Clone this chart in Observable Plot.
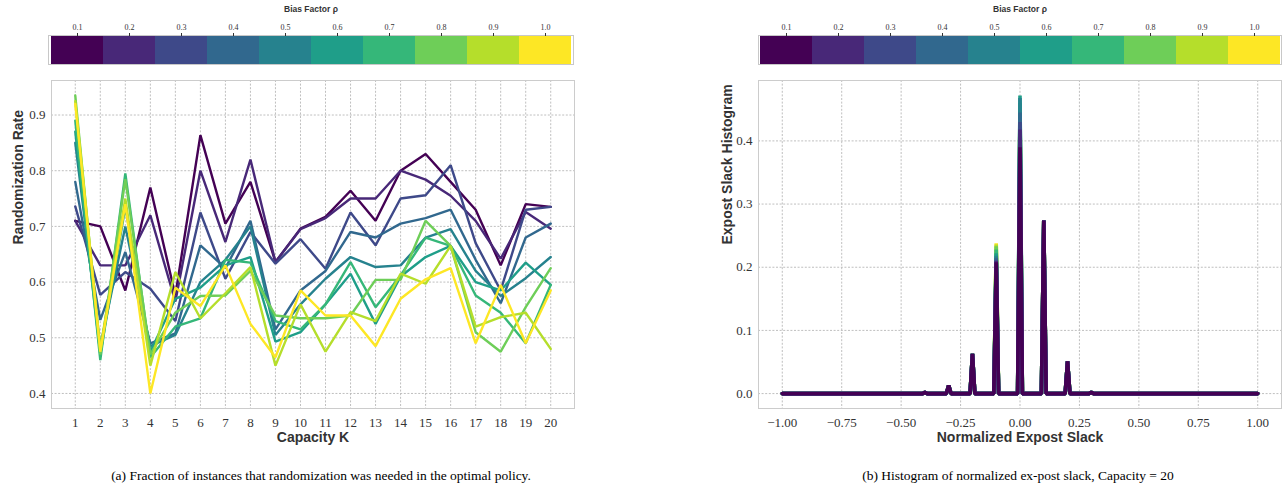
<!DOCTYPE html>
<html><head><meta charset="utf-8">
<script src="https://cdn.jsdelivr.net/npm/d3@7"></script>
<script src="https://cdn.jsdelivr.net/npm/@observablehq/plot@0.6"></script>
<style>
body{margin:0;background:#fff;}
#root{position:relative;width:1283px;height:487px;overflow:hidden;background:#fff;}
.panel{position:absolute;}
.caption{position:absolute;font-family:"Liberation Serif",serif;font-size:13.5px;color:#000;white-space:nowrap;transform:translate(-50%,-50%);}
</style></head><body><div id="root"></div>
<script>
// ---------- data ----------
const rhoValues = [0.1, 0.2, 0.3, 0.4, 0.5, 0.6, 0.7, 0.8, 0.9, 1.0];
const capacityK = [1,2,3,4,5,6,7,8,9,10,11,12,13,14,15,16,17,18,19,20];

const rate_rho01 = [0.71,0.70,0.585,0.77,0.576,0.864,0.705,0.78,0.636,0.696,0.717,0.764,0.71,0.80,0.83,0.78,0.73,0.63,0.74,0.735];
const rate_rho02 = [0.71,0.63,0.63,0.72,0.565,0.80,0.672,0.82,0.636,0.695,0.715,0.75,0.75,0.80,0.784,0.755,0.71,0.642,0.726,0.696];
const rate_rho03 = [0.736,0.577,0.618,0.588,0.53,0.725,0.606,0.69,0.633,0.677,0.624,0.725,0.666,0.75,0.756,0.81,0.67,0.585,0.73,0.735];
const rate_rho04 = [0.78,0.532,0.654,0.49,0.508,0.666,0.625,0.71,0.515,0.585,0.62,0.69,0.68,0.705,0.715,0.73,0.64,0.562,0.68,0.705];
const rate_rho05 = [0.85,0.485,0.70,0.485,0.505,0.60,0.64,0.70,0.505,0.56,0.606,0.645,0.627,0.63,0.68,0.695,0.62,0.575,0.607,0.645];
const rate_rho06 = [0.87,0.47,0.735,0.475,0.57,0.59,0.63,0.645,0.493,0.51,0.56,0.615,0.525,0.61,0.645,0.665,0.60,0.585,0.635,0.595];
const rate_rho07 = [0.89,0.46,0.795,0.465,0.52,0.535,0.64,0.635,0.53,0.515,0.56,0.636,0.555,0.612,0.68,0.665,0.576,0.545,0.49,0.595];
const rate_rho08 = [0.935,0.47,0.785,0.47,0.545,0.575,0.576,0.62,0.54,0.535,0.535,0.54,0.604,0.604,0.71,0.665,0.51,0.475,0.555,0.625];
const rate_rho09 = [0.925,0.48,0.75,0.45,0.618,0.535,0.58,0.627,0.45,0.56,0.475,0.546,0.53,0.615,0.597,0.665,0.52,0.537,0.545,0.48];
const rate_rho10 = [0.92,0.475,0.74,0.40,0.59,0.557,0.63,0.525,0.465,0.585,0.54,0.54,0.485,0.57,0.605,0.625,0.49,0.595,0.49,0.585];

// histogram: non-zero bins of normalized ex-post slack (all other bins from -1 to 1, step 0.01, are 0)
const slackBins = [-0.4,-0.3,-0.2,-0.1,0.0,0.1,0.2,0.3];
const hist_rho01 = [0.002,0.013,0.063,0.208,0.390,0.274,0.051,0.002];
const hist_rho02 = [0.002,0.013,0.063,0.210,0.418,0.274,0.051,0.002];
const hist_rho03 = [0.002,0.013,0.063,0.212,0.430,0.274,0.051,0.002];
const hist_rho04 = [0.002,0.013,0.063,0.215,0.445,0.274,0.051,0.002];
const hist_rho05 = [0.002,0.013,0.063,0.218,0.468,0.274,0.051,0.002];
const hist_rho06 = [0.002,0.013,0.063,0.222,0.472,0.274,0.051,0.002];
const hist_rho07 = [0.002,0.013,0.063,0.228,0.460,0.274,0.051,0.002];
const hist_rho08 = [0.002,0.013,0.063,0.233,0.455,0.274,0.051,0.002];
const hist_rho09 = [0.002,0.013,0.063,0.236,0.450,0.274,0.051,0.002];
const hist_rho10 = [0.002,0.013,0.063,0.238,0.445,0.274,0.051,0.002];
const slackStep = 0.01;

const leftTicksY = [0.4,0.5,0.6,0.7,0.8,0.9];
const rightTicksX = [-1.0,-0.75,-0.5,-0.25,0.0,0.25,0.5,0.75,1.0];
const rightTicksY = [0.0,0.1,0.2,0.3,0.4];

// ---------- tables ----------
const rateSeries = [rate_rho01,rate_rho02,rate_rho03,rate_rho04,rate_rho05,rate_rho06,rate_rho07,rate_rho08,rate_rho09,rate_rho10];
const rateTable = rhoValues.flatMap((rho,i)=>capacityK.map((k,j)=>({rho,k,rate:rateSeries[i][j]})));

const histSeries = [hist_rho01,hist_rho02,hist_rho03,hist_rho04,hist_rho05,hist_rho06,hist_rho07,hist_rho08,hist_rho09,hist_rho10];
const nSteps = Math.round(2/slackStep);
const histTable = [];
// draw darkest last (on top)
for (let i = rhoValues.length-1; i >= 0; i--) {
  for (let s = 0; s <= nSteps; s++) {
    const x = Math.round((-1 + s*slackStep)*100)/100;
    const bi = slackBins.findIndex(b => Math.abs(b - x) < 1e-9);
    histTable.push({rho: rhoValues[i], x, h: bi >= 0 ? histSeries[i][bi] : 0});
  }
}

// ---------- styles ----------
const serif = "'Liberation Serif', 'DejaVu Serif', serif";
const sans = "'Liberation Sans', 'DejaVu Sans', sans-serif";
const gridStyle = {stroke:"#b8b8b8", strokeOpacity:1, strokeWidth:0.9, strokeDasharray:"2,1.6"};
const colorScale = {type:"ordinal", scheme:"viridis", domain: rhoValues};

const root = document.getElementById("root");
function place(node, left, top) {
  const d = document.createElement("div");
  d.className = "panel"; d.style.left = left+"px"; d.style.top = top+"px";
  d.appendChild(node); root.appendChild(d);
}
function caption(text, cx, cy) {
  const d = document.createElement("div");
  d.className = "caption"; d.style.left = cx+"px"; d.style.top = cy+"px";
  d.textContent = text; root.appendChild(d);
}

function colorbar(width, left, right) {
  return Plot.plot({
    width, height: 66, marginLeft: left, marginRight: right, marginTop: 35, marginBottom: 2,
    style: {background:"transparent", overflow:"visible"},
    x: {type:"band", domain: rhoValues, padding: 0},
    color: colorScale,
    marks: [
      Plot.cell(rhoValues, {x: d=>d, fill: d=>d}),
      Plot.frame({stroke:"#c8c8c8", strokeWidth:1}),
      Plot.axisX({anchor:"top", tickSize:3, tickPadding:3, tickFormat:d3.format(".1f"), fontSize:8, fontFamily:serif, label:null, stroke:"#333", color:"#333"}),
      Plot.text(["Bias Factor ρ"], {frameAnchor:"top", lineAnchor:"middle", dy:-26, fontFamily:sans, fontWeight:"bold", fontSize:8.5, fill:"#333"})
    ]
  });
}

// ---------- left panel ----------
place(colorbar(600, 48, 27), 0, 0);

const left = Plot.plot({
  width: 590, height: 380, marginLeft: 51, marginRight: 16, marginTop: 10, marginBottom: 42,
  style: {background:"transparent", overflow:"visible"},
  x: {domain:[0.05, 20.95]},
  y: {domain:[0.373, 0.962]},
  color: colorScale,
  marks: [
    Plot.gridX(capacityK, gridStyle),
    Plot.gridY(leftTicksY, gridStyle),
    Plot.frame({stroke:"#cccccc", strokeWidth:1}),
    Plot.lineY(rateTable, {x:"k", y:"rate", z:"rho", stroke:"rho", strokeWidth:2.4, strokeLinejoin:"miter"}),
    Plot.axisX(capacityK, {tickSize:0, tickPadding:9, tickFormat:d=>String(d), fontSize:13, fontFamily:serif, label:null, color:"#333"}),
    Plot.axisY(leftTicksY, {tickSize:0, tickPadding:6, tickFormat:d3.format(".1f"), fontSize:13, fontFamily:serif, label:null, color:"#333"}),
    Plot.text(["Capacity K"], {frameAnchor:"bottom", lineAnchor:"middle", dy:29, fontFamily:sans, fontWeight:"bold", fontSize:14, fill:"#333"}),
    Plot.text(["Randomization Rate"], {frameAnchor:"left", rotate:-90, dx:-33, fontFamily:sans, fontWeight:"bold", fontSize:14, fill:"#333"})
  ]
});
place(left, 0, 70);
caption("(a) Fraction of instances that randomization was needed in the optimal policy.", 321, 476);

// ---------- right panel ----------
place(colorbar(583, 58, 2), 700, 0);

const right = Plot.plot({
  width: 583, height: 380, marginLeft: 58, marginRight: 2, marginTop: 10, marginBottom: 42,
  style: {background:"transparent", overflow:"visible"},
  x: {domain:[-1.1, 1.1]},
  y: {domain:[-0.0236, 0.4956]},
  color: colorScale,
  marks: [
    Plot.gridX(rightTicksX, gridStyle),
    Plot.gridY(rightTicksY, gridStyle),
    Plot.frame({stroke:"#cccccc", strokeWidth:1}),
    Plot.lineY(histTable, {x:"x", y:"h", z:"rho", stroke:"rho", strokeWidth:3.6, strokeLinejoin:"miter"}),
    Plot.axisX(rightTicksX, {tickSize:0, tickPadding:9, tickFormat:d3.format(".2f"), fontSize:13, fontFamily:serif, label:null, color:"#333"}),
    Plot.axisY(rightTicksY, {tickSize:0, tickPadding:6, tickFormat:d3.format(".1f"), fontSize:13, fontFamily:serif, label:null, color:"#333"}),
    Plot.text(["Normalized Expost Slack"], {frameAnchor:"bottom", lineAnchor:"middle", dy:29, fontFamily:sans, fontWeight:"bold", fontSize:14, fill:"#333"}),
    Plot.text(["Expost Slack Histogram"], {frameAnchor:"left", rotate:-90, dx:-31, fontFamily:sans, fontWeight:"bold", fontSize:14, fill:"#333"})
  ]
});
place(right, 700, 70);
caption("(b) Histogram of normalized ex-post slack, Capacity = 20", 1018, 476);
</script></body></html>
